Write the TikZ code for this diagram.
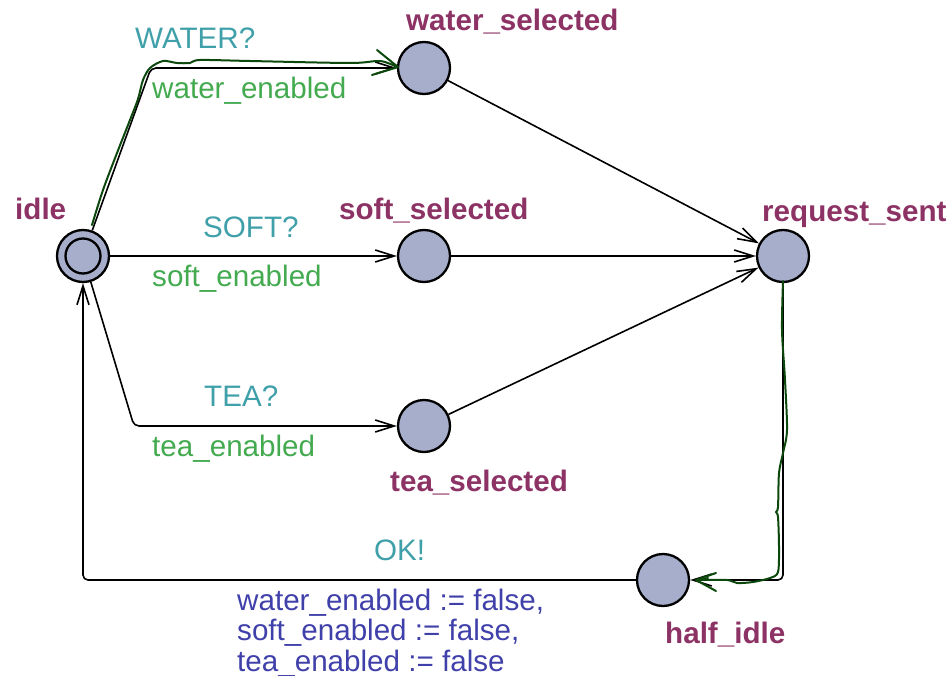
\documentclass[tikz,border=0pt]{standalone}
\usepackage{fontspec}
\setmainfont{Liberation Sans}
\usetikzlibrary{arrows.meta}

\definecolor{locfill}{RGB}{166,174,203}
\definecolor{locname}{RGB}{140,50,100}
\definecolor{synccol}{RGB}{64,160,170}
\definecolor{guardcol}{RGB}{68,170,80}
\definecolor{updcol}{RGB}{64,64,170}
\definecolor{tracecol}{RGB}{12,72,12}

\tikzset{
  loc/.style={circle, draw=black, line width=2.3pt, fill=locfill,
    minimum size=52pt, inner sep=0pt},
  lbl/.style={inner sep=0pt, anchor=base west, font=\fontsize{29.6}{30.2}\selectfont},
  lname/.style={lbl, text=locname, font=\fontsize{29.6}{30.2}\selectfont\bfseries},
  sync/.style={lbl, text=synccol},
  guard/.style={lbl, text=guardcol},
  upd/.style={lbl, text=updcol, align=left, anchor=north west},
  edge/.style={draw=black, line width=1.6pt, rounded corners=5pt,
    -{Straight Barb[length=19pt,width=12pt,line width=1.6pt]}},
  trace/.style={draw=tracecol, line width=2pt, line cap=round, line join=round},
}

\begin{document}
\begin{tikzpicture}[x=1pt, y=-1pt]
\useasboundingbox (0,0) rectangle (949,676);

% locations
\node[loc] (idle) at (83,256) {};
\node[circle, draw=black, line width=2.3pt, minimum size=35pt, inner sep=0pt] (idleinner) at (idle.center) {};
\node[loc] (water) at (424,68) {};
\node[loc] (soft) at (424,256) {};
\node[loc] (tea) at (424,426) {};
\node[loc] (req) at (783,256) {};
\node[loc] (half) at (663,580) {};

% location names
\node[lname] (nidle) at (15,219) {idle};
\node[lname] (nwater) at (406,31) {water\_selected};
\node[lname] (nsoft) at (339,219) {soft\_selected};
\node[lname] (ntea) at (390,491) {tea\_selected};
\node[lname] (nreq) at (762,222) {request\_sent};
\node[lname] (nhalf) at (665,643) {half\_idle};

% waypoints of the bent edges
\coordinate (wbend) at (151,68);
\coordinate (tbend) at (134,426);
\coordinate (rbend) at (783,580);
\coordinate (hbend) at (83,580);

% edges
\draw[edge] (idle) -- (wbend) -- (water);
\draw[edge] (idle) -- (soft);
\draw[edge] (idle) -- (tbend) -- (tea);
\draw[edge] (water) -- (req);
\draw[edge] (soft) -- (req);
\draw[edge] (tea) -- (req);
\draw[edge] (req) -- (rbend) -- (half);
\draw[edge] (half) -- (hbend) -- (idle);

% edge labels
\node[sync] (swater) at (135,49) {WATER?};
\node[guard] (gwater) at (152,99) {water\_enabled};
\node[sync] (ssoft) at (203,237) {SOFT?};
\node[guard] (gsoft) at (152,286) {soft\_enabled};
\node[sync] (stea) at (204,406) {TEA?};
\node[guard] (gtea) at (152,456) {tea\_enabled};
\node[sync] (sok) at (374,560) {OK!};
\node[upd] (uok) at (237,589) {water\_enabled := false,\\soft\_enabled := false,\\tea\_enabled := false};

% highlighted trace
\draw[trace] plot[smooth, tension=0.5] coordinates {
  (92,225) (103,190) (117,153) (130,120) (138,99) (143,80) (150,68)
  (163,61) (177,63) (190,63) (200,60) (250,61) (350,63) (380,61) (397,67)};
\draw[trace] (377,50) -- (398,67) -- (372,75);
\draw[trace] plot[smooth, tension=0.5] coordinates {
  (783,281) (782,330) (785,380) (787,430) (783,453) (779,473) (778,507)
  (776,512) (778,517) (779,547) (778,572) (770,578) (753,582) (737,583)
  (727,580) (698,580)};
\draw[trace] (716,573) -- (696,580) -- (716,591);
\draw[trace] (708,578) -- (697,581);
\end{tikzpicture}
\end{document}
